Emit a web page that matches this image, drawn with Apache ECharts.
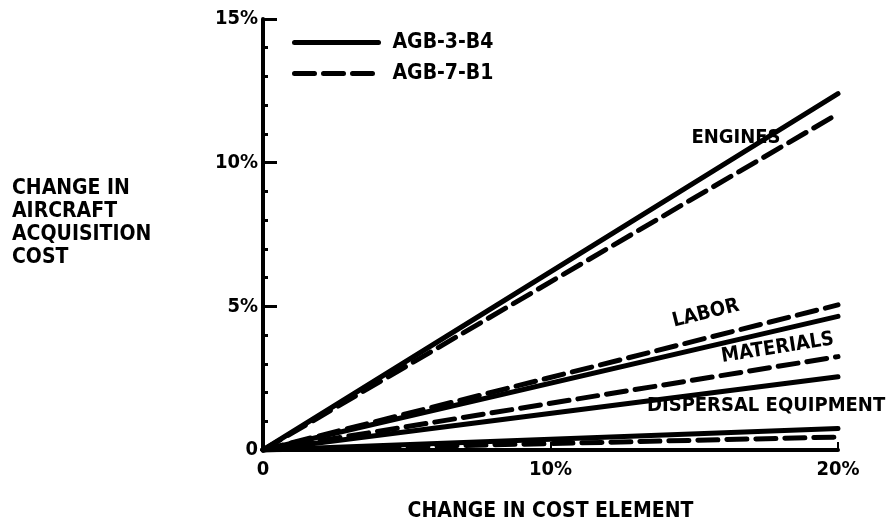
<!DOCTYPE html>
<html><head><meta charset="utf-8">
<script src="https://cdn.jsdelivr.net/npm/echarts@6/dist/echarts.min.js"></script>
<style>html,body{margin:0;padding:0;background:#fff}#c{width:893px;height:529px}</style>
</head><body><div id="c"></div>
<script>
const categories = ['ENGINES', 'LABOR', 'MATERIALS', 'DISPERSAL EQUIPMENT'];
const xEnds = [0, 20];
const agb3 = [12.4, 4.65, 2.55, 0.75];   // solid, value at 20%
const agb7 = [11.7, 5.05, 3.25, 0.45];   // dashed, value at 20%
const yTicks = [0, 5, 10, 15];
const xTicks = [0, 10, 20];
const labelPos = [[16.45, 10.85, 0], [15.4, 4.75, 14], [17.9, 3.55, 9], [17.5, 1.55, 0]];

const FONT = '"DejaVu Sans Condensed","Liberation Sans Narrow",sans-serif';
const chart = echarts.init(document.getElementById('c'));
const series = [];
categories.forEach((c, i) => {
  series.push({name: 'AGB-3-B4', type: 'line', symbol: 'none', showSymbol: false, silent: true,
    data: [[xEnds[0], 0], [xEnds[1], agb3[i]]],
    lineStyle: {color: '#000', width: 5, cap: 'round'}, itemStyle: {color: '#000'}});
  series.push({name: 'AGB-7-B1', type: 'line', symbol: 'none', showSymbol: false, silent: true,
    data: [[xEnds[0], 0], [xEnds[1], agb7[i]]],
    lineStyle: {color: '#000', width: 5, type: [20, 9], cap: 'round'}, itemStyle: {color: '#000'}});
});
chart.setOption({
  animation: false,
  backgroundColor: '#fff',
  grid: {left: 263, right: 55, top: 19, bottom: 79, outerBoundsMode: 'none', containLabel: false},
  legend: {
    data: ['AGB-3-B4', 'AGB-7-B1'], orient: 'vertical', left: 292, top: 32, padding: 0,
    itemWidth: 84, itemHeight: 12, itemGap: 10, selectedMode: false,
    itemStyle: {opacity: 0}, lineStyle: {width: 5},
    textStyle: {fontFamily: FONT, fontWeight: 'bold', fontSize: 21, color: '#000', padding: [0, 0, 0, 9]}
  },
  xAxis: {
    type: 'value', min: 0, max: 20, interval: 10,
    axisLine: {lineStyle: {color: '#000', width: 4}},
    axisTick: {show: true, inside: true, length: 8, lineStyle: {color: '#000', width: 2}},
    splitLine: {show: false},
    axisLabel: {fontFamily: FONT, fontWeight: 'bold', fontSize: 20, color: '#000', margin: 10,
      formatter: v => xTicks.includes(v) ? (v === 0 ? '0' : v + '%') : ''},
    name: 'CHANGE IN COST ELEMENT', nameLocation: 'middle', nameGap: 51,
    nameTextStyle: {fontFamily: FONT, fontWeight: 'bold', fontSize: 21, color: '#000'}
  },
  yAxis: {
    type: 'value', min: 0, max: 15, interval: 5,
    axisLine: {show: true, lineStyle: {color: '#000', width: 4}},
    axisTick: {show: true, inside: true, length: 14, lineStyle: {color: '#000', width: 3}},
    minorTick: {show: true, splitNumber: 5, length: 5, lineStyle: {color: '#000', width: 3}},
    splitLine: {show: false},
    axisLabel: {fontFamily: FONT, fontWeight: 'bold', fontSize: 20, color: '#000', margin: 5,
      formatter: v => yTicks.includes(v) ? (v === 0 ? '0' : v + '%') : ''}
  },
  series: series
});

const graphics = [{
  type: 'text', left: 12, top: 177,
  style: {text: 'CHANGE IN\nAIRCRAFT\nACQUISITION\nCOST', fill: '#000', lineHeight: 23,
    font: 'bold 21px ' + FONT}
}];
categories.forEach((c, i) => {
  const p = chart.convertToPixel({gridIndex: 0}, [labelPos[i][0], labelPos[i][1]]);
  graphics.push({type: 'text', x: p[0], y: p[1], rotation: labelPos[i][2] * Math.PI / 180,
    style: {text: c, fill: '#000', font: 'bold 20px ' + FONT, align: 'center', verticalAlign: 'middle'}});
});
chart.setOption({graphic: graphics});
</script></body></html>
